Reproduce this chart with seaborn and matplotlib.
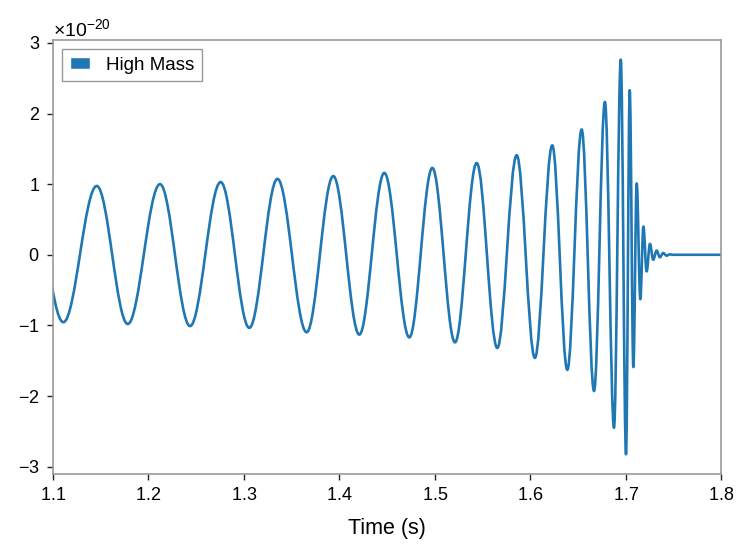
import numpy as np
import matplotlib
matplotlib.use("Agg")
import matplotlib.pyplot as plt
import seaborn as sns
from matplotlib.path import Path
from matplotlib.patches import PathPatch, Patch

# extrema of the waveform (time in s, strain in 1e-20)
peak_times = [1.0765, 1.1108, 1.1458, 1.1783, 1.2121, 1.2436, 1.2757, 1.3057,
              1.3352, 1.3658, 1.3937, 1.4210, 1.4472, 1.4734, 1.4975, 1.5213,
              1.5440, 1.5656, 1.5859, 1.6050, 1.6232, 1.6390, 1.6540, 1.6670,
              1.6784, 1.6879, 1.6950, 1.7005, 1.7044, 1.7082, 1.7117, 1.7155,
              1.7187, 1.7221, 1.7256, 1.7290, 1.7326, 1.7360, 1.7395, 1.7430,
              1.7465, 1.7500, 1.8000]
peak_strain = [0.93, -0.955, 0.975, -0.98, 1.00, -1.01, 1.03, -1.035,
               1.075, -1.097, 1.115, -1.13, 1.16, -1.17, 1.23, -1.24,
               1.30, -1.32, 1.41, -1.46, 1.55, -1.63, 1.775, -1.93,
               2.165, -2.45, 2.764, -2.825, 2.33, -1.59, 1.01, -0.63,
               0.40, -0.235, 0.155, -0.07, 0.06, -0.035, 0.025, -0.012,
               0.006, 0.0, 0.0]
label = "High Mass"
blue = "#1f77b4"

sns.set_style("ticks")
plt.rcParams["font.family"] = ["Liberation Sans", "DejaVu Sans"]
plt.rcParams["mathtext.fontset"] = "custom"
plt.rcParams["mathtext.rm"] = "Liberation Sans"
plt.rcParams["axes.formatter.use_mathtext"] = True
plt.rcParams["text.color"] = "black"
plt.rcParams["axes.labelcolor"] = "black"
plt.rcParams["xtick.color"] = "black"
plt.rcParams["ytick.color"] = "black"

df_t = np.array(peak_times)
df_h = np.array(peak_strain) * 1e-20

# smooth curve between successive extrema (horizontal tangents at each one)
verts = [(df_t[0], df_h[0])]
codes = [Path.MOVETO]
for i in range(1, len(df_t)):
    dt = df_t[i] - df_t[i - 1]
    verts += [(df_t[i - 1] + 0.364 * dt, df_h[i - 1]),
              (df_t[i] - 0.364 * dt, df_h[i]),
              (df_t[i], df_h[i])]
    codes += [Path.CURVE4] * 3

fig = plt.figure(figsize=(7.51, 5.54), dpi=100)
ax = fig.add_axes([0.0706, 0.1444, 0.8894, 0.7836])
ax.add_patch(PathPatch(Path(verts, codes), facecolor="none", edgecolor=blue,
                       lw=1.9, capstyle="round", joinstyle="round"))
ax.set_xlim(1.1, 1.8)
ax.autoscale_view(scalex=False)

for s in ax.spines.values():
    s.set_color("#999999")
    s.set_linewidth(1.2)
ax.tick_params(axis="both", labelsize=13, direction="out", length=4.5,
               width=1, color="#222222", pad=5)
ax.set_xlabel("Time (s)", fontsize=15.5, labelpad=10)
ax.yaxis.get_offset_text().set_fontsize(14)

ax.legend(handles=[Patch(facecolor=blue, label=label)], loc="upper left",
          fontsize=13.5, fancybox=False, edgecolor="#999999", framealpha=1,
          handlelength=1.07, handleheight=0.6, handletextpad=0.85,
          borderaxespad=0.5)

fig.savefig("out.png", dpi=100)
